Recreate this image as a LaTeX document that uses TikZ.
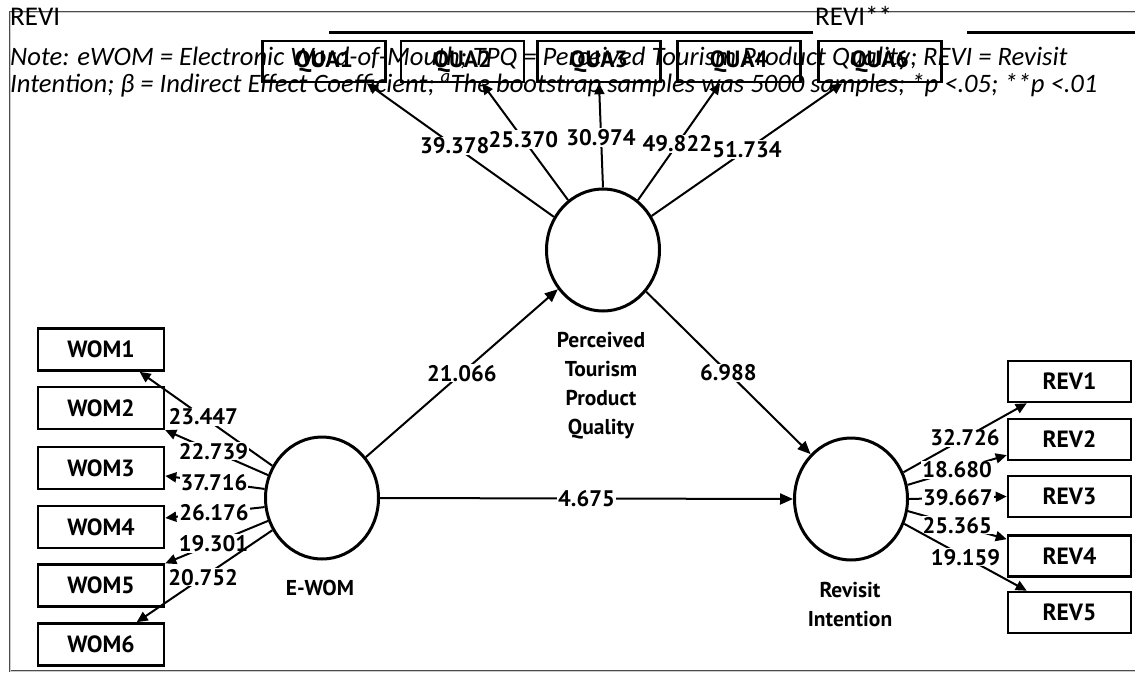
\documentclass[tikz,border=0pt]{standalone}
\usepackage{fontspec}
\setmainfont{Carlito}
\newfontfamily\diagfont{PT Sans}
\usetikzlibrary{arrows.meta,shapes.geometric}

\begin{document}
\begin{tikzpicture}[x=1pt,y=-1pt,
	ind/.style={draw,line width=2.6pt,minimum width=123pt,minimum height=41pt,inner sep=0pt,font=\diagfont\bfseries\fontsize{23.5}{25}\selectfont},
	lat/.style={ellipse,draw,line width=3pt,minimum width=113pt,minimum height=122pt,inner sep=0pt},
	load/.style={line width=2pt,-{Triangle[length=11pt,width=10pt]}},
	path/.style={line width=2pt,-{Triangle[length=13pt,width=11pt]}},
	coef/.style={fill=white,inner sep=1pt,font=\diagfont\bfseries\fontsize{22.5}{24}\selectfont},
	latlabel/.style={align=center,inner sep=0pt,font=\diagfont\bfseries\fontsize{21.5}{29}\selectfont},
	frame/.style={draw=black!70,double=black!20,double distance=0.7pt,line width=0.9pt},
	notetext/.style={anchor=base west,inner sep=0pt,font=\itshape\fontsize{26.6}{27}\selectfont}]
	\useasboundingbox (0,0) rectangle (1135,675);
	% frame and rules
	\draw[frame] (1135,12) -- (10,12) -- (10,671) -- (1135,671);
	\draw[line width=3pt] (329,32) -- (813,32) (967,32) -- (1135,32);
	% latent variables
	\node[lat] (ptpq) at (603,250) {};
	\node[lat] (ewom) at (322,498) {};
	\node[lat] (revi) at (851,499) {};
	\node[latlabel] (ptpqname) at (601,386) {Perceived\\Tourism\\Product\\Quality};
	\node[latlabel] (ewomname) at (320,588) {E-WOM};
	\node[latlabel] (reviname) at (850,604) {Revisit\\Intention};
	% indicators
	\node[ind] (qua1) at (324,61.5) {QUA1};
	\node[ind] (qua2) at (462.5,61.5) {QUA2};
	\node[ind] (qua3) at (599,61.5) {QUA3};
	\node[ind] (qua4) at (739,61.5) {QUA4};
	\node[ind] (qua6) at (880,61.5) {QUA6};
	\node[ind,minimum width=126pt,minimum height=42pt] (wom1) at (101,349.5) {WOM1};
	\node[ind,minimum width=126pt,minimum height=42pt] (wom2) at (101,408) {WOM2};
	\node[ind,minimum width=126pt,minimum height=42pt] (wom3) at (101,468) {WOM3};
	\node[ind,minimum width=126pt,minimum height=42pt] (wom4) at (101,527) {WOM4};
	\node[ind,minimum width=126pt,minimum height=42pt] (wom5) at (101,585.5) {WOM5};
	\node[ind,minimum width=126pt,minimum height=42pt] (wom6) at (101,644.5) {WOM6};
	\node[ind] (rev1) at (1069.5,381.5) {REV1};
	\node[ind] (rev2) at (1069.5,439.5) {REV2};
	\node[ind] (rev3) at (1069.5,496.5) {REV3};
	\node[ind] (rev4) at (1069.5,556) {REV4};
	\node[ind] (rev5) at (1069.5,612.5) {REV5};
	% structural paths
	\draw[path] (ewom.43) -- node[coef] {21.066} (ptpq.221);
	\draw[path] (ptpq.-44) -- node[coef] {6.988} (revi.132);
	\draw[path] (ewom.east) -- node[coef] {4.675} (revi.west);
	% loadings
	\draw[load] (ptpq.146) -- node[coef,pos=.53] {39.378} (qua1.-27);
	\draw[load] (ptpq.125) -- node[coef,pos=.52] {25.370} (qua2.-48);
	\draw[load] (ptpq.90) -- node[coef,pos=.48] {30.974} (qua3.south);
	\draw[load] (ptpq.55) -- node[coef,pos=.48] {49.822} (qua4.-131);
	\draw[load] (ptpq.35) -- node[coef,pos=.5] {51.734} (qua6.-150);
	\draw[load] (ewom.147) -- node[coef,pos=.52] {23.447} (wom1.-30);
	\draw[load] (ewom.157) -- node[coef,pos=.53] {22.739} (wom2.-19);
	\draw[load] (ewom.171) -- node[coef,pos=.51] {37.716} (wom3.-7);
	\draw[load] (ewom.189) -- node[coef,pos=.51] {26.176} (wom4.8);
	\draw[load] (ewom.203) -- node[coef,pos=.53] {19.301} (wom5.19);
	\draw[load] (ewom.213) -- node[coef,pos=.51] {20.752} (wom6.32);
	\draw[load] (revi.27) -- node[coef,pos=.5] {32.726} (rev1.-153);
	\draw[load] (revi.14) -- node[coef,pos=.5] {18.680} (rev2.-166);
	\draw[load] (revi.0) -- node[coef,pos=.5] {39.667} (rev3.west);
	\draw[load] (revi.-12) -- node[coef,pos=.5] {25.365} (rev4.165);
	\draw[load] (revi.-25) -- node[coef,pos=.5] {19.159} (rev5.153);
	% header and note
	\node[anchor=base west,inner sep=0pt,font=\fontsize{27}{27}\selectfont] (revihead) at (10,25) {REVI};
	\node[anchor=base west,inner sep=0pt,font=\fontsize{27}{27}\selectfont] (revistar) at (815,25) {REVI**};
	\node[notetext] (note1) at (10,65) {Note: eWOM = Electronic Word-of-Mouth; TPQ = Perceived Tourism Product Quality; REVI = Revisit};
	\node[notetext] (note2) at (10,92) {Intention; β = Indirect Effect Coefficient; \textsuperscript{a}The bootstrap samples was 5000 samples; *p <.05; **p <.01};
\end{tikzpicture}
\end{document}
